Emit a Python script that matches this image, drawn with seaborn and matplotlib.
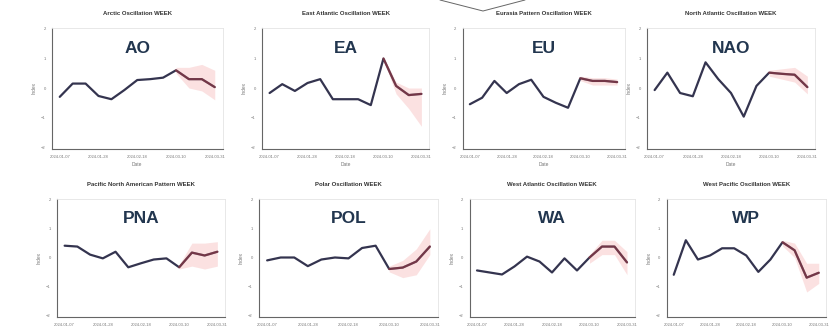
import matplotlib
matplotlib.use("Agg")
import matplotlib.pyplot as plt
from matplotlib.lines import Line2D
import numpy as np
import pandas as pd
import seaborn as sns

sns.set_theme(style="white")
plt.rcParams["font.family"] = ["Liberation Sans", "DejaVu Sans"]

# Weekly dates shared by all panels (13 weeks); every third one is labelled
weeks = ["2024-01-07", "2024-01-14", "2024-01-21", "2024-01-28", "2024-02-04",
         "2024-02-11", "2024-02-18", "2024-02-25", "2024-03-03", "2024-03-10",
         "2024-03-17", "2024-03-24", "2024-03-31"]
tick_idx = [0, 3, 6, 9, 12]
forecast_start = 9

codes = ["AO", "EA", "EU", "NAO", "PNA", "POL", "WA", "WP"]
titles = ["Arctic Oscillation WEEK", "East Atlantic Oscillation WEEK",
          "Eurasia Pattern Oscillation WEEK", "North Atlantic Oscillation WEEK",
          "Pacific North American Pattern WEEK", "Polar Oscillation WEEK",
          "West Atlantic Oscillation WEEK", "West Pacific Oscillation WEEK"]

# Weekly index values
ao = [-0.30, 0.15, 0.15, -0.27, -0.38, -0.07, 0.27, 0.30, 0.35, 0.60, 0.30, 0.30, 0.03]
ea = [-0.17, 0.13, -0.10, 0.17, 0.30, -0.38, -0.38, -0.38, -0.58, 1.00, 0.07, -0.24, -0.20]
eu = [-0.55, -0.33, 0.24, -0.17, 0.13, 0.28, -0.30, -0.50, -0.67, 0.33, 0.24, 0.24, 0.20]
nao = [-0.07, 0.52, -0.17, -0.28, 0.87, 0.30, -0.17, -0.97, 0.07, 0.52, 0.48, 0.45, 0.03]
pna = [0.41, 0.38, 0.10, -0.03, 0.20, -0.34, -0.20, -0.07, -0.03, -0.34, 0.17, 0.07, 0.20]
pol = [-0.10, 0.00, 0.00, -0.30, -0.07, 0.00, -0.03, 0.33, 0.41, -0.40, -0.35, -0.14, 0.38]
wa = [-0.45, -0.52, -0.59, -0.31, 0.03, -0.14, -0.52, -0.03, -0.45, 0.00, 0.38, 0.38, -0.17]
wp = [-0.60, 0.60, -0.07, 0.07, 0.32, 0.32, 0.07, -0.50, -0.07, 0.53, 0.25, -0.70, -0.53]

# Forecast spread (lower / upper) for the last four weeks
ao_lo, ao_hi = [0.50, 0.00, -0.10, -0.40], [0.70, 0.70, 0.80, 0.60]
ea_lo, ea_hi = [0.95, -0.20, -0.70, -1.30], [1.05, 0.20, 0.00, 0.00]
eu_lo, eu_hi = [0.25, 0.10, 0.10, 0.10], [0.40, 0.35, 0.35, 0.30]
nao_lo, nao_hi = [0.40, 0.30, 0.20, -0.20], [0.60, 0.65, 0.70, 0.40]
pna_lo, pna_hi = [-0.40, -0.30, -0.40, -0.30], [-0.25, 0.50, 0.50, 0.55]
pol_lo, pol_hi = [-0.50, -0.70, -0.60, 0.10], [-0.30, -0.10, 0.30, 1.00]
wa_lo, wa_hi = [-0.20, 0.10, 0.10, -0.60], [0.10, 0.60, 0.60, 0.20]
wp_lo, wp_hi = [0.40, 0.00, -1.20, -0.90], [0.60, 0.50, -0.20, -0.20]

series = [ao, ea, eu, nao, pna, pol, wa, wp]
lows = [ao_lo, ea_lo, eu_lo, nao_lo, pna_lo, pol_lo, wa_lo, wp_lo]
highs = [ao_hi, ea_hi, eu_hi, nao_hi, pna_hi, pol_hi, wa_hi, wp_hi]

W, H = 833, 332
fig = plt.figure(figsize=(W / 100, H / 100), dpi=100)

# Pixel boxes of the eight panels: (left, top, width, height)
boxes = [(52, 27.5, 170.5, 121), (262, 27.5, 167, 121), (462.5, 27.5, 162, 121),
         (647, 27.5, 168, 121),
         (57, 198.5, 168, 118), (259, 198.5, 179, 118), (469.5, 198.5, 165, 118),
         (666.5, 198.5, 159.5, 118)]

line_col = "#34344f"
label_col = "#22364f"

for n, (code, title, vals, lo, hi, (l, t, w, h)) in enumerate(
        zip(codes, titles, series, lows, highs, boxes)):
    ax = fig.add_axes([l / W, 1 - (t + h) / H, w / W, h / H])
    df = pd.DataFrame({"week": np.arange(len(vals)), "index": vals})
    fc = df[df["week"] >= forecast_start].copy()
    fc["lo"] = lo
    fc["hi"] = hi

    ax.fill_between(fc["week"], fc["lo"], fc["hi"], color="#f08a8a", alpha=0.25, lw=0)
    sns.lineplot(data=df, x="week", y="index", ax=ax, color=line_col, lw=1.6)
    sns.lineplot(data=fc, x="week", y="index", ax=ax, color="#d23b3b", lw=1.6, alpha=0.4)

    ax.set_xlim(-0.6, len(vals) - 1 + 0.6)
    ax.set_ylim(-2.05, 2.05)
    ax.set_yticks([-2, -1, 0, 1, 2])
    ax.set_xticks(tick_idx)
    ax.set_xticklabels([weeks[i] for i in tick_idx])
    ax.tick_params(axis="both", labelsize=3, colors="#777777", length=1.5, width=0.5, pad=3)
    # the lower row's axis caption falls below the figure edge, so only the top row gets one
    ax.set_xlabel("Date" if n < 4 else "", fontsize=3.5, color="#777777", labelpad=2)
    ax.set_ylabel("Index", fontsize=3.5, color="#777777", labelpad=3)
    ax.set_title(title, fontsize=4.3, fontweight="bold", color="#333333", pad=9)
    ax.text(0.5, 0.83, code, transform=ax.transAxes, ha="center", va="center",
            fontsize=12.5, fontweight="bold", color=label_col)
    for side in ["left", "bottom"]:
        ax.spines[side].set_color("#666666")
        ax.spines[side].set_linewidth(0.8)
    for side in ["top", "right"]:
        ax.spines[side].set_color("#e4e4e4")
        ax.spines[side].set_linewidth(0.6)

# Pointer stroke above the EU panel
px = np.array([440, 483, 525])
py = np.array([0, 11, 0])
fig.add_artist(Line2D(px / W, 1 - py / H, color="#666666", lw=0.7))

fig.savefig("out.png", dpi=100, facecolor="white")
